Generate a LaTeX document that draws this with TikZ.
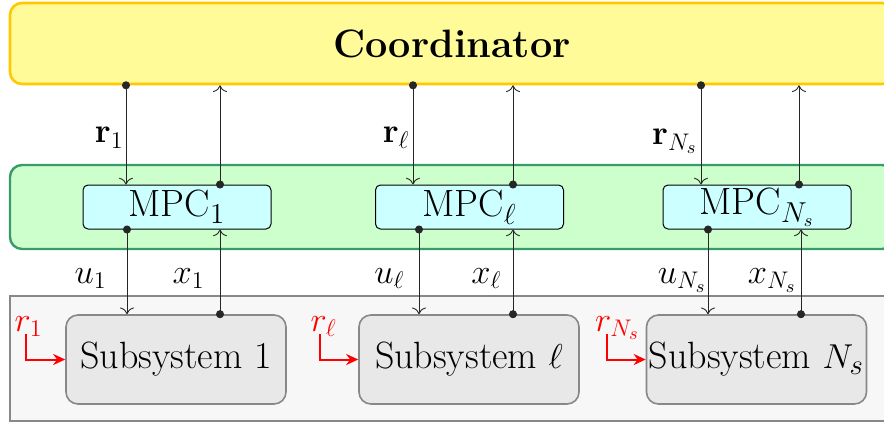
\documentclass[tikz,border=0pt]{standalone}
\usepackage{amsmath}
\usetikzlibrary{positioning,calc,arrows.meta}
\definecolor{CoordFill}{HTML}{FFFB99}
\definecolor{CoordLine}{HTML}{FFC800}
\definecolor{CtrlFill}{HTML}{CCFFCC}
\definecolor{CtrlLine}{HTML}{3A9A6A}
\definecolor{MpcFill}{HTML}{CCFFFF}
\definecolor{PlantFill}{HTML}{F7F7F7}
\definecolor{PlantLine}{HTML}{888888}
\definecolor{SubFill}{HTML}{E8E8E8}

\tikzset{
	layer/.style={rounded corners=6pt, minimum width=442pt, inner sep=0pt},
	mpcbox/.style={draw=black, fill=MpcFill, line width=0.5pt, rounded corners=2.5pt,
		minimum width=94pt, minimum height=22pt, inner sep=0pt, font=\fontsize{19}{23}\selectfont},
	subbox/.style={draw=PlantLine, fill=SubFill, line width=0.8pt, rounded corners=6pt,
		minimum width=110pt, minimum height=44.5pt, inner sep=0pt, font=\fontsize{19}{23}\selectfont},
	sig/.style={draw=black!85, line width=0.45pt, {Circle[length=4pt]}-{To[scale=1.3]}, shorten <=-2pt},
	lab/.style={font=\fontsize{18}{22}\selectfont, inner sep=0pt, anchor=base east},
	reflab/.style={text=red, font=\fontsize{18}{22}\selectfont, inner sep=0pt, anchor=base west},
	refarr/.style={draw=red, line width=1pt, -{Stealth[length=6pt, width=5.5pt]}}
}

\begin{document}
\begin{tikzpicture}[x=0.5pt, y=-0.5pt]
	\useasboundingbox (0,0) rectangle (884,423);
	
	% three layers
	\node[
	draw=CoordLine,
	fill=CoordFill,
	line width=1.3pt,
	layer,
	minimum height=40.5pt
	] (coord) at (452,43.5) {\fontsize{19.8}{24}\selectfont\bfseries Coordinator};
	
	\node[
	draw=CtrlLine,
	fill=CtrlFill,
	line width=1.2pt,
	layer,
	minimum height=42pt
	] (ctrl) at (452,207) {};
	
	\node[
	draw=PlantLine,
	fill=PlantFill,
	line width=1pt,
	layer,
	rounded corners=0pt,
	minimum height=62.5pt
	] (plant) at (452,358.5) {};
	
	% controllers
	\node[mpcbox] (mpc1) at (177,207) {MPC$_1$};
	\node[mpcbox] (mpcl) at (469.5,207) {MPC$_\ell$};
	\node[mpcbox] (mpcn) at (757,207) {MPC$_{N_s}$};
	
	% subsystems
	\node[subbox] (sub1) at (176,359.5) {Subsystem 1};
	\node[subbox] (subl) at (469,359.5) {Subsystem $\ell$};
	\node[subbox] (subn) at (756.5,359.5) {Subsystem $N_s$};
	
	% coordinator <-> controllers
	\draw[sig] ([xshift=-25.5pt]mpc1.north |- coord.south) -- ([xshift=-25.5pt]mpc1.north)
		node[lab, pos=0.58, xshift=-1pt] {$\mathbf{r}_1$};
	\draw[sig] ([xshift=21.5pt]mpc1.north) -- ([xshift=21.5pt]mpc1.north |- coord.south);
	
	\draw[sig] ([xshift=-28.25pt]mpcl.north |- coord.south) -- ([xshift=-28.25pt]mpcl.north)
		node[lab, pos=0.58, xshift=-1.5pt] {$\mathbf{r}_\ell$};
	\draw[sig] ([xshift=21.75pt]mpcl.north) -- ([xshift=21.75pt]mpcl.north |- coord.south);
	
	\draw[sig] ([xshift=-28pt]mpcn.north |- coord.south) -- ([xshift=-28pt]mpcn.north)
		node[lab, pos=0.6, xshift=-1.5pt] {$\mathbf{r}_{N_s}$};
	\draw[sig] ([xshift=21pt]mpcn.north) -- ([xshift=21pt]mpcn.north |- coord.south);
	
	% controllers <-> subsystems
	\draw[sig] ([xshift=-25pt]mpc1.south) -- ([xshift=-25pt]mpc1.south |- sub1.north)
		node[lab, pos=0.64, xshift=-10pt] {$u_1$};
	\draw[sig] ([xshift=21.5pt]mpc1.south |- sub1.north) -- ([xshift=21.5pt]mpc1.south)
		node[lab, pos=0.36, xshift=-7.5pt] {$x_1$};
	
	\draw[sig] ([xshift=-25.25pt]mpcl.south) -- ([xshift=-25.25pt]mpcl.south |- subl.north)
		node[lab, pos=0.64, xshift=-7pt] {$u_\ell$};
	\draw[sig] ([xshift=21.75pt]mpcl.south |- subl.north) -- ([xshift=21.75pt]mpcl.south)
		node[lab, pos=0.36, xshift=-5.5pt] {$x_\ell$};
	
	\draw[sig] ([xshift=-24.5pt]mpcn.south) -- ([xshift=-24.5pt]mpcn.south |- subn.north)
		node[lab, pos=0.64, xshift=-0.5pt] {$u_{N_s}$};
	\draw[sig] ([xshift=22pt]mpcn.south |- subn.north) -- ([xshift=22pt]mpcn.south)
		node[lab, pos=0.36, xshift=-2pt] {$x_{N_s}$};
	
	% local references
	\node[reflab] (ref1) at ([xshift=-25.5pt, yshift=-8.5pt]sub1.north west) {$r_1$};
	\node[reflab] (refl) at ([xshift=-24pt, yshift=-8.5pt]subl.north west) {$r_\ell$};
	\node[reflab] (refn) at ([xshift=-25.5pt, yshift=-8.5pt]subn.north west) {$r_{N_s}$};
	
	\draw[refarr] ([xshift=6pt, yshift=-1.5pt]ref1.base west) |- (sub1.west);
	\draw[refarr] ([xshift=5pt, yshift=-1.5pt]refl.base west) |- (subl.west);
	\draw[refarr] ([xshift=6pt, yshift=-1.5pt]refn.base west) |- (subn.west);
\end{tikzpicture}
\end{document}
